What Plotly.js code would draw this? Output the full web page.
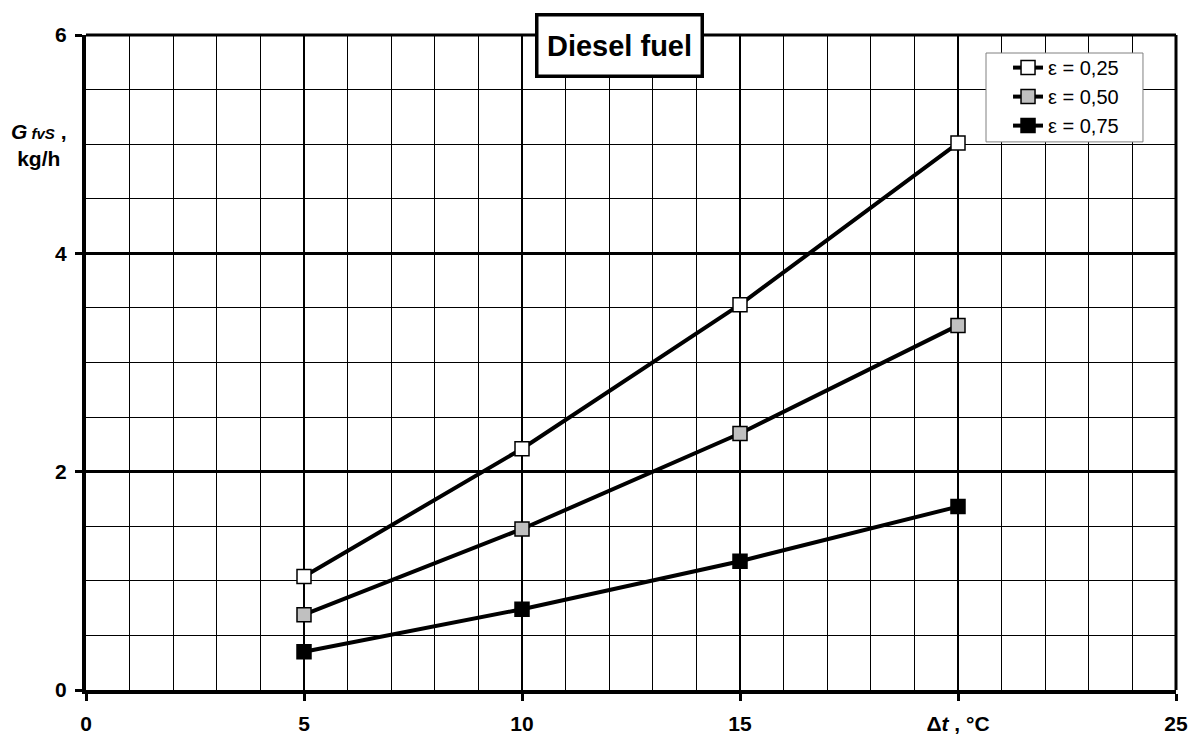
<!DOCTYPE html>
<html>
<head>
<meta charset="utf-8">
<script src="https://cdn.plot.ly/plotly-3.0.1.min.js"></script>
<style>
  html, body { margin: 0; padding: 0; background: #fff; }
  #chart { width: 1192px; height: 738px; }
</style>
</head>
<body>
<div id="chart"></div>
<script>
// Temperature difference, °C
const deltaT = [5, 10, 15, 20];

// Fuel vapour flow G_fvS, kg/h, for each efficiency
const eps025 = [1.04, 2.21, 3.53, 5.01];
const eps050 = [0.69, 1.475, 2.35, 3.34];
const eps075 = [0.35, 0.74, 1.18, 1.68];

const seriesNames = ['ε = 0,25', 'ε = 0,50', 'ε = 0,75'];
const markerFills = ['#ffffff', '#c0c0c0', '#000000'];

const xTickVals = [0, 5, 10, 15, 20, 25];
const xTickText = ['0', '5', '10', '15', 'Δ<i>t</i> , °C', '25'];
const yTickVals = [0, 2, 4, 6];

const FONT = 'Arial, "Liberation Sans", sans-serif';

function makeTrace(y, i) {
  return {
    x: deltaT,
    y: y,
    name: seriesNames[i],
    type: 'scatter',
    mode: 'lines+markers',
    line: { color: '#000', width: 4 },
    marker: {
      symbol: 'square',
      size: 14,
      color: markerFills[i],
      line: { color: '#000', width: 1.5 }
    }
  };
}

const data = [eps025, eps050, eps075].map(makeTrace);

const layout = {
  width: 1192,
  height: 738,
  margin: { l: 86, r: 16, t: 35, b: 47.5 },
  paper_bgcolor: '#fff',
  plot_bgcolor: '#fff',
  font: { family: FONT, color: '#000' },
  showlegend: true,
  legend: {
    x: 0.8459, y: 0.980, xanchor: 'left', yanchor: 'top',
    bgcolor: 'rgba(0,0,0,0)',
    borderwidth: 0,
    font: { family: FONT, size: 20, color: '#000' }
  },
  xaxis: {
    range: [0, 25],
    tickmode: 'array',
    tickvals: xTickVals,
    ticktext: xTickText.map(t => '<b>' + t + '</b>'),
    tickfont: { family: FONT, size: 21, color: '#000' },
    ticks: 'outside', ticklen: 7, tickwidth: 3, tickcolor: '#000',
    ticklabelstandoff: 5,
    showline: true, linecolor: '#000', linewidth: 4,
    zeroline: false,
    showgrid: true, gridcolor: '#000', gridwidth: 2.5,
    minor: { tickmode: 'linear', tick0: 0, dtick: 1, showgrid: true, gridcolor: '#000', gridwidth: 1, ticks: '' },
    fixedrange: true
  },
  yaxis: {
    range: [0, 6],
    tickmode: 'array',
    tickvals: yTickVals,
    ticktext: yTickVals.map(v => '<b>' + v + '</b>'),
    tickfont: { family: FONT, size: 21, color: '#000' },
    ticks: 'outside', ticklen: 7, tickwidth: 3, tickcolor: '#000',
    ticklabelstandoff: 4,
    showline: true, linecolor: '#000', linewidth: 4,
    zeroline: false,
    showgrid: true, gridcolor: '#000', gridwidth: 2.5,
    minor: { tickmode: 'linear', tick0: 0, dtick: 0.5, showgrid: true, gridcolor: '#000', gridwidth: 1, ticks: '' },
    fixedrange: true
  },
  shapes: [
    // top and right frame of the plotting area
    { type: 'line', xref: 'paper', yref: 'paper', x0: 0, x1: 1, y0: 1, y1: 1, line: { color: '#000', width: 3 } },
    { type: 'line', xref: 'paper', yref: 'paper', x0: 1, x1: 1, y0: 0, y1: 1, line: { color: '#000', width: 3 } },
    // legend frame
    { type: 'rect', xref: 'paper', yref: 'paper', layer: 'above',
      x0: 0.8257, x1: 0.9697, y0: 0.8368, y1: 0.9725,
      fillcolor: '#fff', line: { color: '#808080', width: 1 } }
  ],
  annotations: [
    {
      text: '<b>Diesel fuel</b>',
      xref: 'paper', yref: 'paper',
      x: 0.489, y: 0.984, xanchor: 'center', yanchor: 'middle',
      showarrow: false,
      font: { family: FONT, size: 29, color: '#000' },
      bgcolor: '#fff', bordercolor: '#000', borderwidth: 3.5, borderpad: 2,
      width: 158, height: 54
    },
    {
      text: '<b><i>G</i><span style="font-size:15px"><i> fvS</i></span> ,</b><br><b>kg/h</b>',
      xref: 'paper', yref: 'paper',
      x: -0.043, y: 0.832, xanchor: 'center', yanchor: 'middle',
      showarrow: false,
      align: 'center',
      font: { family: FONT, size: 21, color: '#000' }
    }
  ]
};

Plotly.newPlot('chart', data, layout, { displayModeBar: false, staticPlot: true });
</script>
</body>
</html>
